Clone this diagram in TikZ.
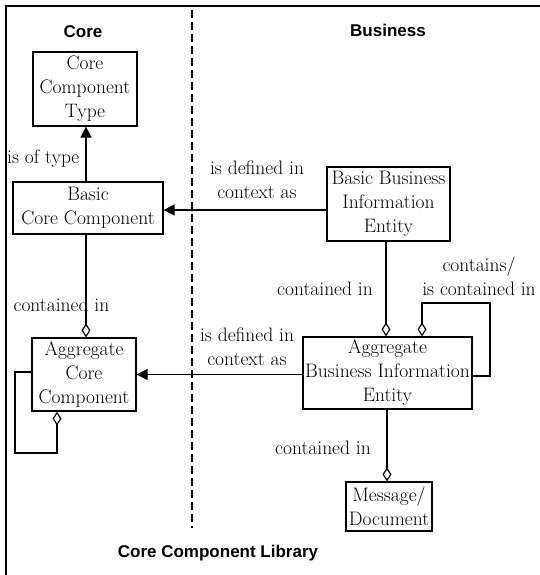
\documentclass[tikz,border=0pt]{standalone}
\usepackage{fontspec}
\newfontfamily\hdrfont{Liberation Sans}
\usetikzlibrary{arrows.meta,calc}
\begin{document}
\begin{tikzpicture}[x=1pt,y=-1pt, line width=1.2pt,
  box/.style={draw, align=center, font=\fontsize{19.5}{24}\selectfont, inner sep=0pt},
  lbl/.style={align=center, font=\fontsize{19.5}{24}\selectfont, inner sep=0pt},
  hdr/.style={font=\hdrfont\bfseries\fontsize{17}{20}\selectfont, inner sep=0pt},
  isa/.style={-{Triangle[length=11pt,width=11pt]}},
  agg/.style={-{Diamond[open,length=14pt,width=9pt]}},
  divider/.style={line width=1.5pt, dash pattern=on 8pt off 4pt}]
\useasboundingbox (0,0) rectangle (540,575);
% frame
\coordinate (fbl) at (6,575);
\coordinate (ftl) at (6,6);
\coordinate (ftr) at (540,6);
\draw (fbl) -- (ftl) -- (ftr);
% divider
\coordinate (dtop) at (192,10);
\coordinate (dbot) at (192,528);
\draw[divider] (dtop) -- (dbot);
% headers
\node[hdr] (hcore) at (83,32) {Core};
\node[hdr] (hbus) at (388,30) {Business};
\node[hdr] (hlib) at (218,553) {Core Component Library};
% boxes
\node[box, minimum width=104pt, minimum height=74pt] (cct) at (85,89) {Core\\Component\\Type};
\node[box, minimum width=150pt, minimum height=52pt] (bcc) at (88,208) {Basic\\Core Component};
\node[box, minimum width=123pt, minimum height=74pt] (bbie) at (388.5,204) {Basic Business\\Information\\Entity};
\node[box, minimum width=104pt, minimum height=73pt] (acc) at (84,374.5) {Aggregate\\Core\\Component};
\node[box, minimum width=169pt, minimum height=72pt] (abie) at (387.5,373) {Aggregate\\Business Information\\Entity};
\node[box, minimum width=86pt, minimum height=49pt] (msg) at (389,506.5) {Message/\\Document};
% connectors
\draw[isa] (bcc.north -| 86,0) -- (cct.south -| 86,0);
\draw[isa] (bbie.west |- 0,210) -- (bcc.east |- 0,210);
\draw[agg] (bcc.south -| 86,0) -- (acc.north -| 86,0);
\coordinate (accl1) at (15,372);
\coordinate (accl2) at (15,453);
\coordinate (accl3) at (57,453);
\draw[agg] (acc.west |- accl1) -- (accl1) -- (accl2) -- (accl3) -- (acc.south -| accl3);
\draw[isa] (abie.west |- acc.east) -- (acc.east);
\draw[agg] (bbie.south -| 386,0) -- (abie.north -| 386,0);
\coordinate (abl1) at (490,376);
\coordinate (abl2) at (490,303);
\coordinate (abl3) at (422,303);
\draw[agg] (abie.east |- abl1) -- (abl1) -- (abl2) -- (abl3) -- (abie.north -| abl3);
\draw[agg] (abie.south -| 387,0) -- (msg.north -| 387,0);
% labels
\node[lbl, anchor=east] (l1) at (80,159) {is of type};
\node[lbl] (l2) at (257,180) {is defined in\\context as};
\node[lbl, anchor=west] (l3) at (13,305) {contained in};
\node[lbl] (l4) at (247,347) {is defined in\\context as};
\node[lbl] (l5) at (325,289) {contained in};
\node[lbl] (l6) at (479,276.5) {contains/\\is contained in};
\node[lbl] (l7) at (323,448) {contained in};
\end{tikzpicture}
\end{document}
